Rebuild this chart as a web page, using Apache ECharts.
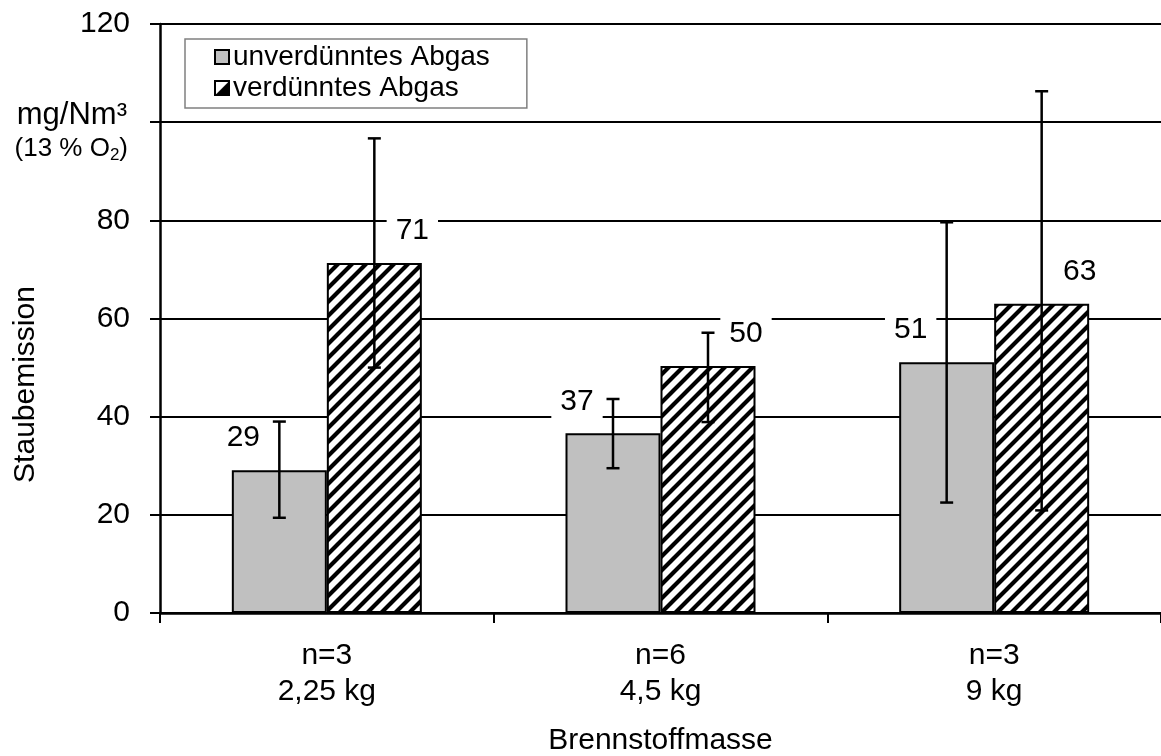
<!DOCTYPE html>
<html>
<head>
<meta charset="utf-8">
<script src="https://cdn.jsdelivr.net/npm/echarts@6/dist/echarts.min.js"></script>
<style>html,body{margin:0;padding:0;background:#fff}#c{width:1161px;height:756px}</style>
</head>
<body>
<div id="c"></div>
<script>
// ---- data ----
var categories = ['n=3\n2,25 kg', 'n=6\n4,5 kg', 'n=3\n9 kg'];
var seriesNames = ['unverdünntes Abgas', 'verdünntes Abgas'];
var undilutedValues = [29.1, 36.6, 51.1];
var dilutedValues = [71.3, 50.3, 63.0];
var undilutedLow = [19.4, 29.5, 22.5];
var undilutedHigh = [39.0, 43.6, 79.6];
var dilutedLow = [50.0, 38.9, 20.9];
var dilutedHigh = [96.7, 57.1, 106.3];
var yTicks = [0, 20, 40, 60, 80, 100, 120];
var yAxisTitle = 'Staubemission';
var xAxisTitle = 'Brennstoffmasse';
var unitLine1 = 'mg/Nm³';
var unitLine2a = '(13 % O', unitLine2sub = '2', unitLine2b = ')';

var FONT = 'Liberation Sans, Arial, sans-serif';
var BAR_W = 95;

// hatch pattern
var tile = document.createElement('canvas');
var s = 14;
tile.width = s; tile.height = s;
var g = tile.getContext('2d');
g.fillStyle = '#fff'; g.fillRect(0, 0, s, s);
g.strokeStyle = '#000'; g.lineWidth = 4.2;
g.beginPath();
g.moveTo(-2, s + 2); g.lineTo(s + 2, -2);
g.moveTo(-2, 2); g.lineTo(2, -2);
g.moveTo(s - 2, s + 2); g.lineTo(s + 2, s - 2);
g.stroke();

// legend icons
function makeIcon(kind) {
  var c = document.createElement('canvas');
  c.width = 16; c.height = 16;
  var x = c.getContext('2d');
  x.fillStyle = kind === 'grey' ? '#C0C0C0' : '#fff';
  x.fillRect(0, 0, 16, 16);
  if (kind === 'hatch') {
    var gr = x.createLinearGradient(2, 2, 14, 14);
    gr.addColorStop(0, '#fff'); gr.addColorStop(0.45, '#fff'); gr.addColorStop(0.55, '#000'); gr.addColorStop(1, '#000');
    x.fillStyle = gr;
    x.beginPath(); x.moveTo(16, 0); x.lineTo(16, 16); x.lineTo(0, 16); x.closePath(); x.fill();
  }
  x.strokeStyle = '#000'; x.lineWidth = 2;
  x.strokeRect(1, 1, 14, 14);
  return 'image://' + c.toDataURL();
}

function errData(low, high) {
  return low.map(function (l, i) { return [i, l, high[i]]; });
}
function errRender(offset) {
  return function (params, api) {
    var x = api.value(0);
    var lo = api.coord([x, api.value(1)]);
    var hi = api.coord([x, api.value(2)]);
    var cx = lo[0] + offset;
    var cap = 6.5;
    var st = { stroke: '#000', lineWidth: 2.5 };
    return {
      type: 'group',
      children: [
        { type: 'line', shape: { x1: cx, y1: lo[1], x2: cx, y2: hi[1] }, style: st },
        { type: 'line', shape: { x1: cx - cap, y1: lo[1], x2: cx + cap, y2: lo[1] }, style: st },
        { type: 'line', shape: { x1: cx - cap, y1: hi[1], x2: cx + cap, y2: hi[1] }, style: st }
      ]
    };
  };
}

var labelBase = {
  show: true, position: 'top', distance: 0,
  fontFamily: FONT, fontSize: 30, color: '#000',
  backgroundColor: '#fff', padding: [2, 9],
  formatter: function (p) { return Math.round(p.value); }
};

var chart = echarts.init(document.getElementById('c'), null, { renderer: 'canvas' });
chart.setOption({
  animation: false,
  backgroundColor: '#fff',
  grid: { left: 160, right: 0, top: 24, bottom: 143, containLabel: false, outerBoundsMode: 'none' },
  legend: {
    data: [
      { name: seriesNames[0], icon: makeIcon('grey') },
      { name: seriesNames[1], icon: makeIcon('hatch') }
    ],
    orient: 'vertical',
    left: 185, top: 39,
    itemWidth: 16, itemHeight: 16, itemGap: 3,
    padding: [4, 37, 6, 29],
    backgroundColor: '#fff',
    borderColor: '#808080', borderWidth: 1.5,
    textStyle: { fontFamily: FONT, fontSize: 28, color: '#000', lineHeight: 28, padding: [0, 0, 0, -2] }
  },
  xAxis: {
    type: 'category',
    data: categories,
    name: xAxisTitle,
    nameLocation: 'middle',
    nameGap: 113,
    nameTextStyle: { fontFamily: FONT, fontSize: 30, color: '#000' },
    axisLine: { lineStyle: { color: '#000', width: 2.5 } },
    axisTick: { show: true, length: 10, interval: 0, lineStyle: { color: '#000', width: 2 } },
    axisLabel: { fontFamily: FONT, fontSize: 30, color: '#000', lineHeight: 36, margin: 25, interval: 0 }
  },
  yAxis: {
    type: 'value',
    min: yTicks[0], max: yTicks[yTicks.length - 1], interval: 20,
    axisLine: { show: true, lineStyle: { color: '#000', width: 2.5 } },
    axisTick: { show: true, length: 10, lineStyle: { color: '#000', width: 2 } },
    axisLabel: {
      fontFamily: FONT, fontSize: 30, color: '#000', margin: 30,
      formatter: function (v) { return v === 100 ? '' : String(v); }
    },
    splitLine: { show: true, lineStyle: { color: '#000', width: 2 } }
  },
  series: [
    {
      name: seriesNames[0], type: 'bar', data: undilutedValues,
      barWidth: BAR_W, barGap: '0%',
      itemStyle: { color: '#C0C0C0', borderColor: '#000', borderWidth: 2 },
      label: Object.assign({}, labelBase, { offset: [-36, -15] }),
      z: 3
    },
    {
      name: seriesNames[1], type: 'bar', data: dilutedValues,
      barWidth: BAR_W, barGap: '0%',
      itemStyle: { color: { image: tile, repeat: 'repeat' }, borderColor: '#000', borderWidth: 2 },
      label: Object.assign({}, labelBase, { offset: [38, -15] }),
      z: 3
    },
    {
      type: 'custom', name: 'err1', data: errData(undilutedLow, undilutedHigh),
      renderItem: errRender(-BAR_W / 2), encode: { x: 0, y: [1, 2] }, z: 10, silent: true
    },
    {
      type: 'custom', name: 'err2', data: errData(dilutedLow, dilutedHigh),
      renderItem: errRender(BAR_W / 2), encode: { x: 0, y: [1, 2] }, z: 10, silent: true
    }
  ]
});

var y100 = chart.convertToPixel({ yAxisIndex: 0 }, 100);
var yMid = (chart.convertToPixel({ yAxisIndex: 0 }, 0) + chart.convertToPixel({ yAxisIndex: 0 }, 120)) / 2;
chart.setOption({
  graphic: [
    {
      type: 'text', x: 127, y: y100 - 7,
      style: { text: unitLine1, fontFamily: FONT, fontSize: 31, fill: '#000', align: 'right', verticalAlign: 'middle' }
    },
    {
      type: 'text', x: 128, y: y100 + 27,
      style: {
        text: '{b|' + unitLine2a + '}{s|' + unitLine2sub + '}{b|' + unitLine2b + '}',
        align: 'right', verticalAlign: 'middle',
        rich: {
          b: { fontFamily: FONT, fontSize: 26, fill: '#000', lineHeight: 30 },
          s: { fontFamily: FONT, fontSize: 17, fill: '#000', lineHeight: 17, verticalAlign: 'bottom', padding: [6, 0, 0, 0] }
        }
      }
    },
    {
      type: 'text', x: 26, y: yMid + 66, rotation: Math.PI / 2,
      style: { text: yAxisTitle, fontFamily: FONT, fontSize: 30, fill: '#000', align: 'center', verticalAlign: 'middle' }
    }
  ]
});
</script>
</body>
</html>
